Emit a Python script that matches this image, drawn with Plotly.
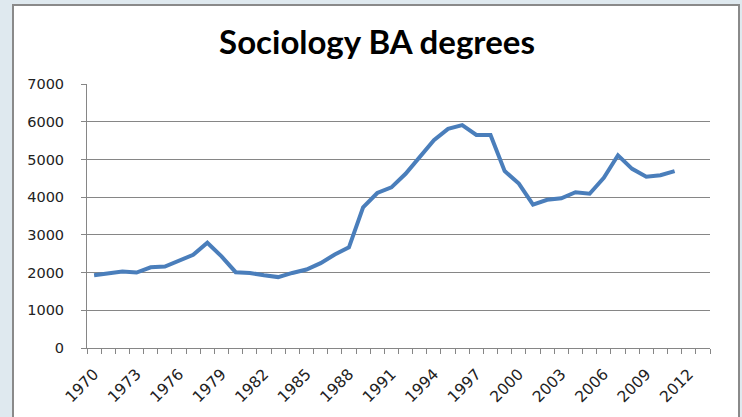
import plotly.graph_objects as go

years = list(range(1970, 2012))
degrees = [1930, 1990, 2030, 2000, 2140, 2160, 2320, 2470, 2790, 2430,
           2010, 1990, 1930, 1880, 1990, 2080, 2250, 2480, 2670, 3730,
           4110, 4260, 4620, 5060, 5510, 5810, 5910, 5650, 5650, 4690,
           4360, 3800, 3930, 3970, 4130, 4090, 4510, 5110, 4750, 4540,
           4580, 4690]
tick_years = list(range(1970, 2013, 3))
y_ticks = [0, 1000, 2000, 3000, 4000, 5000, 6000, 7000]

W, H = 742, 417
L, R, T, B = 87, 32, 84, 69
pw, ph = W - L - R, H - T - B

def px2x(px):
    return (px - L) / pw

def py2y(py):
    return (H - B - py) / ph

fig = go.Figure()
fig.add_trace(go.Scatter(
    x=years, y=degrees, mode="lines",
    line=dict(color="#4A7EBB", width=4),
    hoverinfo="x+y", showlegend=False,
))

fig.update_layout(
    width=W, height=H,
    margin=dict(l=L, r=R, t=T, b=B, autoexpand=False),
    paper_bgcolor="#dfe9ef",
    plot_bgcolor="white",
    title=dict(text="<b>Sociology BA degrees</b>", x=377 / W, xanchor="center",
               y=1 - 42 / H, yanchor="middle",
               font=dict(family="Lato", size=33, color="black")),
    font=dict(family="DejaVu Sans", size=14.5, color="#222222"),
    shapes=[dict(type="rect", xref="paper", yref="paper",
                 x0=px2x(13), x1=px2x(739), y0=py2y(440), y1=py2y(5),
                 fillcolor="white", line=dict(color="#8a8a8a", width=2),
                 layer="below")],
)
fig.update_xaxes(
    range=[1969.5, 2013.5],
    tickvals=tick_years, ticktext=[str(t) for t in tick_years],
    tickangle=-45, ticks="", showgrid=False,
    tickfont=dict(size=15.5),
    showline=True, linecolor="#868686", linewidth=1,
    minor=dict(tickvals=[y + 0.5 for y in range(1969, 2014)], ticks="outside",
               ticklen=5, tickcolor="#868686", showgrid=False),
    zeroline=False, ticklabelstandoff=10,
)
fig.update_yaxes(
    range=[0, 7000], tickvals=y_ticks,
    ticks="outside", ticklen=5, tickcolor="#868686",
    showgrid=True, gridcolor="#868686", gridwidth=1,
    showline=True, linecolor="#868686", linewidth=1,
    zeroline=False, ticklabelstandoff=14,
)

fig.write_html(
    "out.html",
    config={"displayModeBar": False},
    post_script="document.body.style.margin='0';document.body.style.background='#dfe9ef';",
)
